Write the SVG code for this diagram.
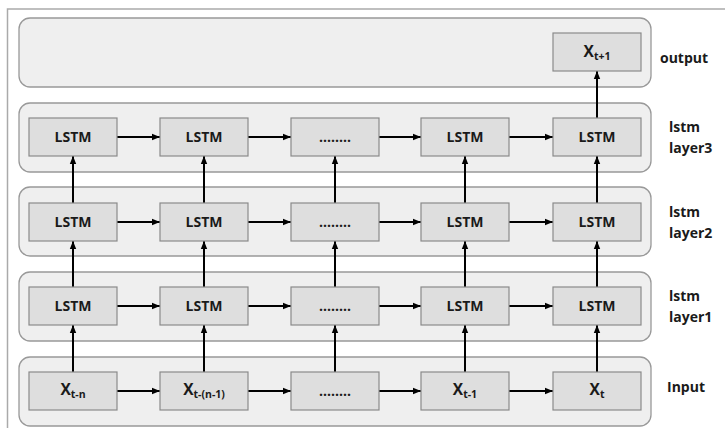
<svg xmlns="http://www.w3.org/2000/svg" width="725" height="428" viewBox="0 0 725 428">
<defs>
<marker id="ah" viewBox="0 0 10 10" refX="10" refY="5" markerWidth="4" markerHeight="4" orient="auto" markerUnits="strokeWidth"><path d="M0,1 L10,5 L0,9 z" fill="#000"/></marker>
<style>
.panel{fill:#efefef;stroke:#999;stroke-width:1.3}
.box{fill:#dedede;stroke:#8a8a8a;stroke-width:1.2}
.t{font-family:"Open Sans","Liberation Sans",sans-serif;font-weight:bold;font-size:14px;fill:#1a1a1a;text-anchor:middle}
.x{font-size:15.5px}
.s{font-size:10.5px}
.lab{font-family:"Open Sans","Liberation Sans",sans-serif;font-weight:bold;font-size:14px;fill:#1a1a1a}
.c{stroke:#000;stroke-width:2;fill:none;marker-end:url(#ah)}
</style>
</defs>
<rect width="725" height="428" fill="#fff"/>
<path d="M7.5,428 V9 H725" fill="none" stroke="#aaa" stroke-width="1.5"/>
<g id="panels">
<rect id="panel-output" class="panel" x="19" y="18" width="632" height="69" rx="11"/>
<rect id="panel-layer3" class="panel" x="19" y="103" width="632" height="69" rx="11"/>
<rect id="panel-layer2" class="panel" x="19" y="187" width="632" height="69" rx="11"/>
<rect id="panel-layer1" class="panel" x="19" y="272" width="632" height="69" rx="11"/>
<rect id="panel-input" class="panel" x="19" y="357" width="632" height="69" rx="11"/>
</g>
<g id="connectors">
<path class="c" d="M117,137 H160"/><path class="c" d="M248,137 H291"/><path class="c" d="M379,137 H421"/><path class="c" d="M509,137 H553"/>
<path class="c" d="M117,222 H160"/><path class="c" d="M248,222 H291"/><path class="c" d="M379,222 H421"/><path class="c" d="M509,222 H553"/>
<path class="c" d="M117,306 H160"/><path class="c" d="M248,306 H291"/><path class="c" d="M379,306 H421"/><path class="c" d="M509,306 H553"/>
<path class="c" d="M117,391 H160"/><path class="c" d="M248,391 H291"/><path class="c" d="M379,391 H421"/><path class="c" d="M509,391 H553"/>
<path class="c" d="M73,372 V325"/><path class="c" d="M204,372 V325"/><path class="c" d="M335,372 V325"/><path class="c" d="M465,372 V325"/><path class="c" d="M597,372 V325"/>
<path class="c" d="M73,287 V241"/><path class="c" d="M204,287 V241"/><path class="c" d="M335,287 V241"/><path class="c" d="M465,287 V241"/><path class="c" d="M597,287 V241"/>
<path class="c" d="M73,203 V156"/><path class="c" d="M204,203 V156"/><path class="c" d="M335,203 V156"/><path class="c" d="M465,203 V156"/><path class="c" d="M597,203 V156"/>
<path class="c" d="M597,118 V71"/>
</g>
<g id="out"><rect class="box" x="553" y="33" width="88" height="38"/><text class="t x" x="597" y="57">X<tspan class="s" dy="3">t+1</tspan></text></g>
<g id="l3-1"><rect class="box" x="29" y="118" width="88" height="38"/><text class="t" x="73" y="142">LSTM</text></g>
<g id="l3-2"><rect class="box" x="160" y="118" width="88" height="38"/><text class="t" x="204" y="142">LSTM</text></g>
<g id="l3-3"><rect class="box" x="291" y="118" width="88" height="38"/><text class="t" x="335" y="142">........</text></g>
<g id="l3-4"><rect class="box" x="421" y="118" width="88" height="38"/><text class="t" x="465" y="142">LSTM</text></g>
<g id="l3-5"><rect class="box" x="553" y="118" width="88" height="38"/><text class="t" x="597" y="142">LSTM</text></g>
<g id="l2-1"><rect class="box" x="29" y="203" width="88" height="38"/><text class="t" x="73" y="227">LSTM</text></g>
<g id="l2-2"><rect class="box" x="160" y="203" width="88" height="38"/><text class="t" x="204" y="227">LSTM</text></g>
<g id="l2-3"><rect class="box" x="291" y="203" width="88" height="38"/><text class="t" x="335" y="227">........</text></g>
<g id="l2-4"><rect class="box" x="421" y="203" width="88" height="38"/><text class="t" x="465" y="227">LSTM</text></g>
<g id="l2-5"><rect class="box" x="553" y="203" width="88" height="38"/><text class="t" x="597" y="227">LSTM</text></g>
<g id="l1-1"><rect class="box" x="29" y="287" width="88" height="38"/><text class="t" x="73" y="311">LSTM</text></g>
<g id="l1-2"><rect class="box" x="160" y="287" width="88" height="38"/><text class="t" x="204" y="311">LSTM</text></g>
<g id="l1-3"><rect class="box" x="291" y="287" width="88" height="38"/><text class="t" x="335" y="311">........</text></g>
<g id="l1-4"><rect class="box" x="421" y="287" width="88" height="38"/><text class="t" x="465" y="311">LSTM</text></g>
<g id="l1-5"><rect class="box" x="553" y="287" width="88" height="38"/><text class="t" x="597" y="311">LSTM</text></g>
<g id="in-1"><rect class="box" x="29" y="372" width="88" height="38"/><text class="t x" x="73" y="395">X<tspan class="s" dy="3">t-n</tspan></text></g>
<g id="in-2"><rect class="box" x="160" y="372" width="88" height="38"/><text class="t x" x="204" y="395">X<tspan class="s" dy="3">t-(n-1)</tspan></text></g>
<g id="in-3"><rect class="box" x="291" y="372" width="88" height="38"/><text class="t" x="335" y="396">........</text></g>
<g id="in-4"><rect class="box" x="421" y="372" width="88" height="38"/><text class="t x" x="465" y="395">X<tspan class="s" dy="3">t-1</tspan></text></g>
<g id="in-5"><rect class="box" x="553" y="372" width="88" height="38"/><text class="t x" x="597" y="395">X<tspan class="s" dy="3">t</tspan></text></g>
<g id="labels">
<text class="lab" x="660" y="63">output</text>
<text class="lab" x="669" y="132">lstm</text><text class="lab" x="669" y="153">layer3</text>
<text class="lab" x="669" y="217">lstm</text><text class="lab" x="669" y="238">layer2</text>
<text class="lab" x="669" y="301">lstm</text><text class="lab" x="669" y="322">layer1</text>
<text class="lab" x="667" y="392">Input</text>
</g>
</svg>
